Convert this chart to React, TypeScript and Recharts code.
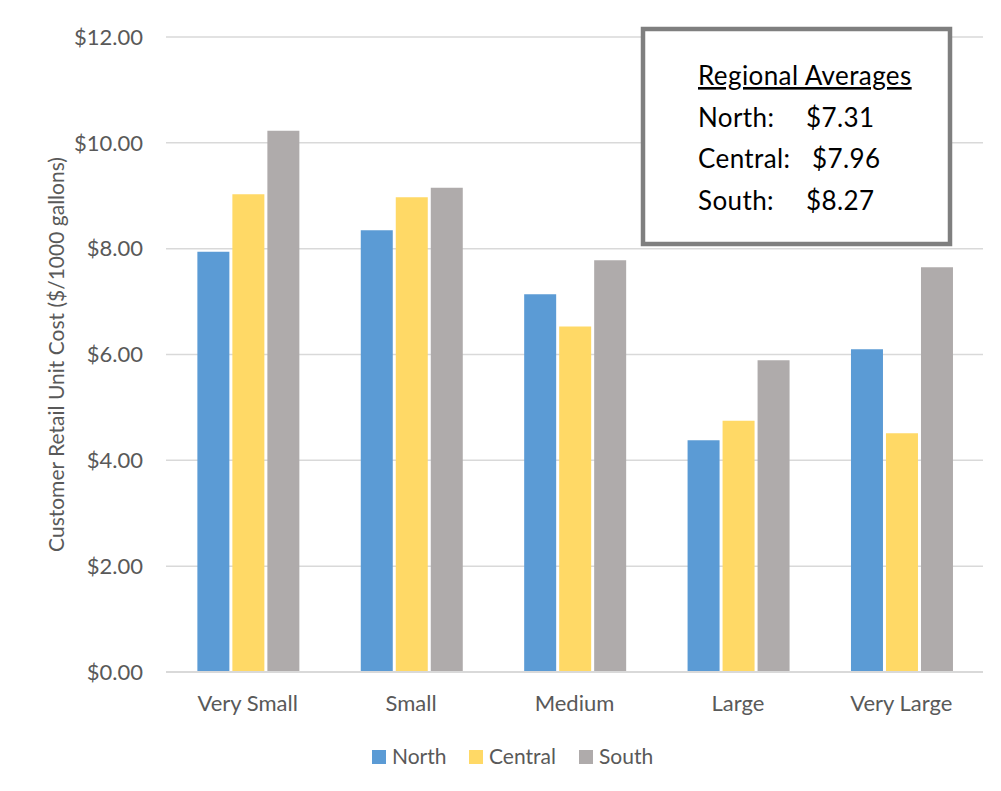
import { BarChart, Bar, XAxis, YAxis, CartesianGrid } from "recharts";

// 카테고리 / 시리즈 값
const categories = ["Very Small", "Small", "Medium", "Large", "Very Large"];
const northValues = [7.94, 8.35, 7.14, 4.38, 6.1];
const centralValues = [9.03, 8.97, 6.53, 4.75, 4.51];
const southValues = [10.23, 9.15, 7.78, 5.89, 7.65];
const yTicks = [0, 2, 4, 6, 8, 10, 12];

const seriesNames = ["North", "Central", "South"];
const seriesColors = ["#5B9BD5", "#FFD966", "#AFABAB"];

const averageLabels = ["North:", "Central:", "South:"];
const averageValues = ["$7.31", "$7.96", "$8.27"];

const data = categories.map((category, i) => ({
  category,
  north: northValues[i],
  central: centralValues[i],
  south: southValues[i],
}));

const FONT = "Lato, 'Open Sans', sans-serif";
const TEXT_GRAY = "#595959";

const App: React.FC = () => {
  const width = 1001;
  const height = 791;

  // 세로축 제목 (회전)
  const yLabel = (props: any) => {
    const { viewBox } = props;
    const cx = 55;
    const cy = viewBox.y + viewBox.height / 2;
    return (
      <text
        x={cx}
        y={cy}
        transform={`rotate(-90, ${cx}, ${cy})`}
        textAnchor="middle"
        dominantBaseline="central"
        fontSize={21}
        fontFamily={FONT}
        fill={TEXT_GRAY}
      >
        Customer Retail Unit Cost ($/1000 gallons)
      </text>
    );
  };

  // 범례 위치 (레퍼런스 기준)
  const legendX = [372, 469, 579];
  // 평균 박스 값 x 위치
  const valueX = [806, 812, 806];

  return (
    <div
      style={{
        position: "relative",
        width,
        height,
        margin: -8,
        background: "#fff",
        overflow: "hidden",
      }}
    >
      <BarChart
        width={width}
        height={height}
        data={data}
        margin={{ top: 37, right: 18, bottom: 89, left: 0 }}
        barGap={3}
        barCategoryGap="19.2%"
      >
        <CartesianGrid vertical={false} stroke="#D9D9D9" strokeWidth={1.5} />
        <XAxis
          dataKey="category"
          height={30}
          tickLine={false}
          tickSize={0}
          tickMargin={23}
          axisLine={{ stroke: "#D9D9D9", strokeWidth: 2 }}
          tick={{ fontSize: 22, fontFamily: FONT, fill: TEXT_GRAY }}
          interval={0}
        />
        <YAxis
          width={166}
          domain={[0, 12]}
          ticks={yTicks}
          tickFormatter={(v: number) => `$${v.toFixed(2)}`}
          tickLine={false}
          axisLine={false}
          tickSize={0}
          tickMargin={23}
          tick={{ fontSize: 22, fontFamily: FONT, fill: TEXT_GRAY }}
          label={{ content: yLabel }}
        />
        <Bar dataKey="north" fill={seriesColors[0]} isAnimationActive={false} />
        <Bar dataKey="central" fill={seriesColors[1]} isAnimationActive={false} />
        <Bar dataKey="south" fill={seriesColors[2]} isAnimationActive={false} />
      </BarChart>

      {/* 바깥 테두리, 평균 박스, 범례 오버레이 */}
      <svg
        width={width}
        height={height}
        style={{ position: "absolute", left: 0, top: 0, pointerEvents: "none" }}
      >
        <line x1={6} y1={5} x2={6} y2={height} stroke="#D9D9D9" strokeWidth={2} />
        <line x1={5} y1={6} x2={width} y2={6} stroke="#D9D9D9" strokeWidth={2} />

        <rect
          x={643}
          y={29}
          width={307}
          height={215}
          fill="#fff"
          stroke="#7F7F7F"
          strokeWidth={4.5}
        />
        <g fontFamily={FONT} fontSize={26} fill="#000" letterSpacing={0.4}>
          <text x={698} y={85} style={{ textDecoration: "underline" }}>
            Regional Averages
          </text>
          {averageLabels.map((label, i) => (
            <g key={label}>
              <text x={698} y={126.7 + i * 41.7}>
                {label}
              </text>
              <text x={valueX[i]} y={126.7 + i * 41.7}>
                {averageValues[i]}
              </text>
            </g>
          ))}
        </g>

        {/* 범례 */}
        <g fontFamily={FONT} fontSize={21} fill={TEXT_GRAY}>
          {seriesNames.map((name, i) => (
            <g key={name}>
              <rect x={legendX[i]} y={750} width={14} height={14} fill={seriesColors[i]} />
              <text x={legendX[i] + 20} y={764}>
                {name}
              </text>
            </g>
          ))}
        </g>
      </svg>
    </div>
  );
};

export default App;
